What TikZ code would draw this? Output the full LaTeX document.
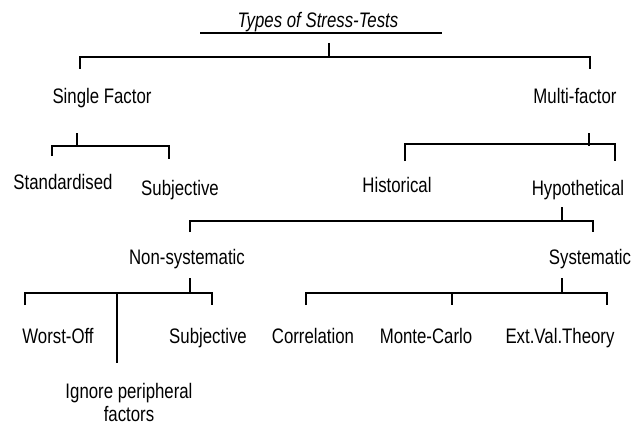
\documentclass[tikz,border=0pt]{standalone}
\usepackage{fontspec}
\setmainfont{Liberation Sans}[FakeStretch=0.8]
\usepackage{tikz}

\begin{document}
\begin{tikzpicture}[
  x=1pt, y=-1pt,
  every node/.style={inner sep=0pt, anchor=base, font=\fontsize{21}{23}\selectfont},
  every path/.style={line width=1.8pt}
]
  \useasboundingbox (0,0) rectangle (632,428);

  % Title
  \node (title) at (318,28) {\itshape Types of Stress-Tests};
  \coordinate (ulL) at (200,33);
  \coordinate (ulR) at (442,33);
  \draw (ulL) -- (ulR);

  % First level
  \node (single) at (102,103) {Single Factor};
  \node (multi) at (575,103) {Multi-factor};
  \coordinate (t0) at (329,43);
  \coordinate (b0) at (329,57);
  \coordinate (b0L) at (80,57);
  \coordinate (b0R) at (590,57);
  \coordinate (d0L) at (80,69);
  \coordinate (d0R) at (590,69);
  \draw (t0) -- (b0);
  \draw (d0L) -- (b0L) -- (b0R) -- (d0R);

  % Single factor
  \node (stand) at (63,189) {Standardised};
  \node (subjA) at (180,195) {Subjective};
  \coordinate (t1) at (77,133);
  \coordinate (b1) at (77,146);
  \coordinate (b1L) at (52,146);
  \coordinate (b1R) at (169,146);
  \coordinate (d1L) at (52,156);
  \coordinate (d1R) at (169,159);
  \draw (t1) -- (b1);
  \draw (d1L) -- (b1L) -- (b1R) -- (d1R);

  % Multi-factor
  \node (hist) at (397,192) {Historical};
  \node (hypo) at (578,195) {Hypothetical};
  \coordinate (t2) at (589,133);
  \coordinate (b2) at (589,146);
  \coordinate (b2L) at (405,144);
  \coordinate (b2R) at (615,144);
  \coordinate (d2L) at (405,161);
  \coordinate (d2R) at (615,161);
  \draw (t2) -- (b2);
  \draw (d2L) -- (b2L) -- (b2R) -- (d2R);

  % Hypothetical
  \node (nonsys) at (187,264) {Non-systematic};
  \node (sys) at (590,264) {Systematic};
  \coordinate (t3) at (562,207);
  \coordinate (b3) at (562,221);
  \coordinate (b3L) at (190,221);
  \coordinate (b3R) at (593,221);
  \coordinate (d3L) at (190,232);
  \coordinate (d3R) at (593,232);
  \draw (t3) -- (b3);
  \draw (d3L) -- (b3L) -- (b3R) -- (d3R);

  % Non-systematic
  \node (worst) at (58,343) {Worst-Off};
  \node (subjB) at (208,343) {Subjective};
  \node[anchor=center, align=center] (ignore) at (129,402) {Ignore peripheral\\factors};
  \coordinate (t4) at (190,278);
  \coordinate (b4) at (190,293);
  \coordinate (b4L) at (25,293);
  \coordinate (b4R) at (212,293);
  \coordinate (b4M) at (117,293);
  \coordinate (d4L) at (25,305);
  \coordinate (d4R) at (212,305);
  \coordinate (d4M) at (117,363);
  \draw (t4) -- (b4);
  \draw (d4L) -- (b4L) -- (b4R) -- (d4R);
  \draw (b4M) -- (d4M);

  % Systematic
  \node (corr) at (313,343) {Correlation};
  \node (monte) at (426,343) {Monte-Carlo};
  \node (ext) at (560,343) {Ext.Val.Theory};
  \coordinate (t5) at (562,278);
  \coordinate (b5) at (562,293);
  \coordinate (b5L) at (306,293);
  \coordinate (b5R) at (607,293);
  \coordinate (b5M) at (452,293);
  \coordinate (d5L) at (306,305);
  \coordinate (d5R) at (607,305);
  \coordinate (d5M) at (452,305);
  \draw (t5) -- (b5);
  \draw (d5L) -- (b5L) -- (b5R) -- (d5R);
  \draw (b5M) -- (d5M);
\end{tikzpicture}
\end{document}
